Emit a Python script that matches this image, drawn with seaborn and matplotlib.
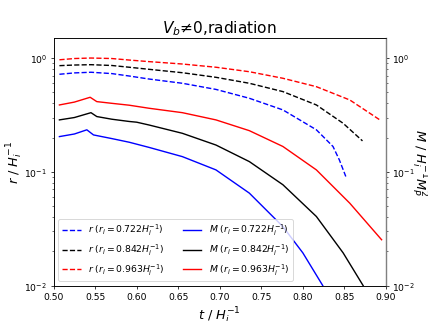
import matplotlib
matplotlib.use("Agg")
import matplotlib.pyplot as plt
import seaborn as sns
import pandas as pd

# r curves (dashed)
t_r1 = [0.507, 0.525, 0.545, 0.57, 0.591, 0.6148, 0.655, 0.6954, 0.7356, 0.776, 0.8163, 0.8363, 0.844, 0.8517]
r_r1 = [0.72, 0.74, 0.75, 0.73, 0.695, 0.654, 0.60, 0.53, 0.443, 0.35, 0.234, 0.167, 0.127, 0.091]
t_r2 = [0.507, 0.525, 0.545, 0.57, 0.591, 0.6148, 0.655, 0.6954, 0.7356, 0.776, 0.8163, 0.8485, 0.8718]
r_r2 = [0.857, 0.868, 0.874, 0.86, 0.83, 0.796, 0.743, 0.677, 0.60, 0.507, 0.387, 0.267, 0.187]
t_r3 = [0.507, 0.525, 0.545, 0.57, 0.591, 0.6148, 0.655, 0.6954, 0.7356, 0.776, 0.8163, 0.8565, 0.8927]
r_r3 = [0.965, 0.99, 1.0, 0.99, 0.96, 0.93, 0.886, 0.83, 0.758, 0.664, 0.56, 0.428, 0.286]

# M curves (solid)
t_m1 = [0.507, 0.525, 0.540, 0.548, 0.57, 0.591, 0.6148, 0.655, 0.6954, 0.7356, 0.776, 0.800, 0.824, 0.827]
m_m1 = [0.204, 0.215, 0.234, 0.211, 0.196, 0.182, 0.164, 0.136, 0.104, 0.065, 0.033, 0.0194, 0.0100, 0.0088]
t_m2 = [0.507, 0.525, 0.545, 0.552, 0.57, 0.591, 0.60, 0.6148, 0.655, 0.6954, 0.7356, 0.776, 0.8163, 0.8485, 0.8726, 0.875]
m_m2 = [0.286, 0.30, 0.331, 0.306, 0.29, 0.277, 0.273, 0.258, 0.218, 0.172, 0.123, 0.077, 0.0405, 0.0194, 0.0100, 0.0092]
t_m3 = [0.507, 0.525, 0.544, 0.552, 0.57, 0.591, 0.6148, 0.655, 0.6954, 0.7356, 0.776, 0.8163, 0.8565, 0.8948]
m_m3 = [0.387, 0.41, 0.452, 0.414, 0.40, 0.385, 0.362, 0.331, 0.286, 0.23, 0.167, 0.104, 0.053, 0.0253]

labels_r = [r"$r$ ($r_i=0.722H_i^{-1}$)", r"$r$ ($r_i=0.842H_i^{-1}$)", r"$r$ ($r_i=0.963H_i^{-1}$)"]
labels_m = [r"$M$ ($r_i=0.722H_i^{-1}$)", r"$M$ ($r_i=0.842H_i^{-1}$)", r"$M$ ($r_i=0.963H_i^{-1}$)"]
colors = ["blue", "black", "red"]

fig, ax1 = plt.subplots(figsize=(6.4, 4.8), dpi=67)
ax2 = ax1.twinx()

for (t, v), lab, c in zip([(t_r1, r_r1), (t_r2, r_r2), (t_r3, r_r3)], labels_r, colors):
    df = pd.DataFrame({"t": t, "v": v})
    sns.lineplot(data=df, x="t", y="v", ax=ax1, color=c, linestyle="--", linewidth=1.5, label=lab, legend=False)
for (t, v), lab, c in zip([(t_m1, m_m1), (t_m2, m_m2), (t_m3, m_m3)], labels_m, colors):
    df = pd.DataFrame({"t": t, "v": v})
    sns.lineplot(data=df, x="t", y="v", ax=ax2, color=c, linestyle="-", linewidth=1.5, label=lab, legend=False)

for ax in (ax1, ax2):
    ax.set_yscale("log")
    ax.set_ylim(0.01, 1.5)
    ax.set_xlim(0.5, 0.9)
ax1.set_xticks([0.50, 0.55, 0.60, 0.65, 0.70, 0.75, 0.80, 0.85, 0.90])
ax1.set_xlabel(r"$t$ / $H_i^{-1}$", fontsize=14)
ax1.set_ylabel(r"$r$ / $H_i^{-1}$", fontsize=14, labelpad=-1)
ax2.set_ylabel(r"$M$ / $H_i^{-1}M_P^2$", fontsize=14, rotation=270, labelpad=15)
ax2.set_xlabel("")
ax2.spines["right"].set_color("gray")
ax2.spines["right"].set_linewidth(1.5)
ax1.set_title(r"$V_b$≠0,radiation", fontsize=16.5)

h1, l1 = ax1.get_legend_handles_labels()
h2, l2 = ax2.get_legend_handles_labels()
ax2.legend(h1 + h2, l1 + l2, loc="lower left", ncol=2, fontsize=10)

fig.savefig("out.png", dpi=67)
